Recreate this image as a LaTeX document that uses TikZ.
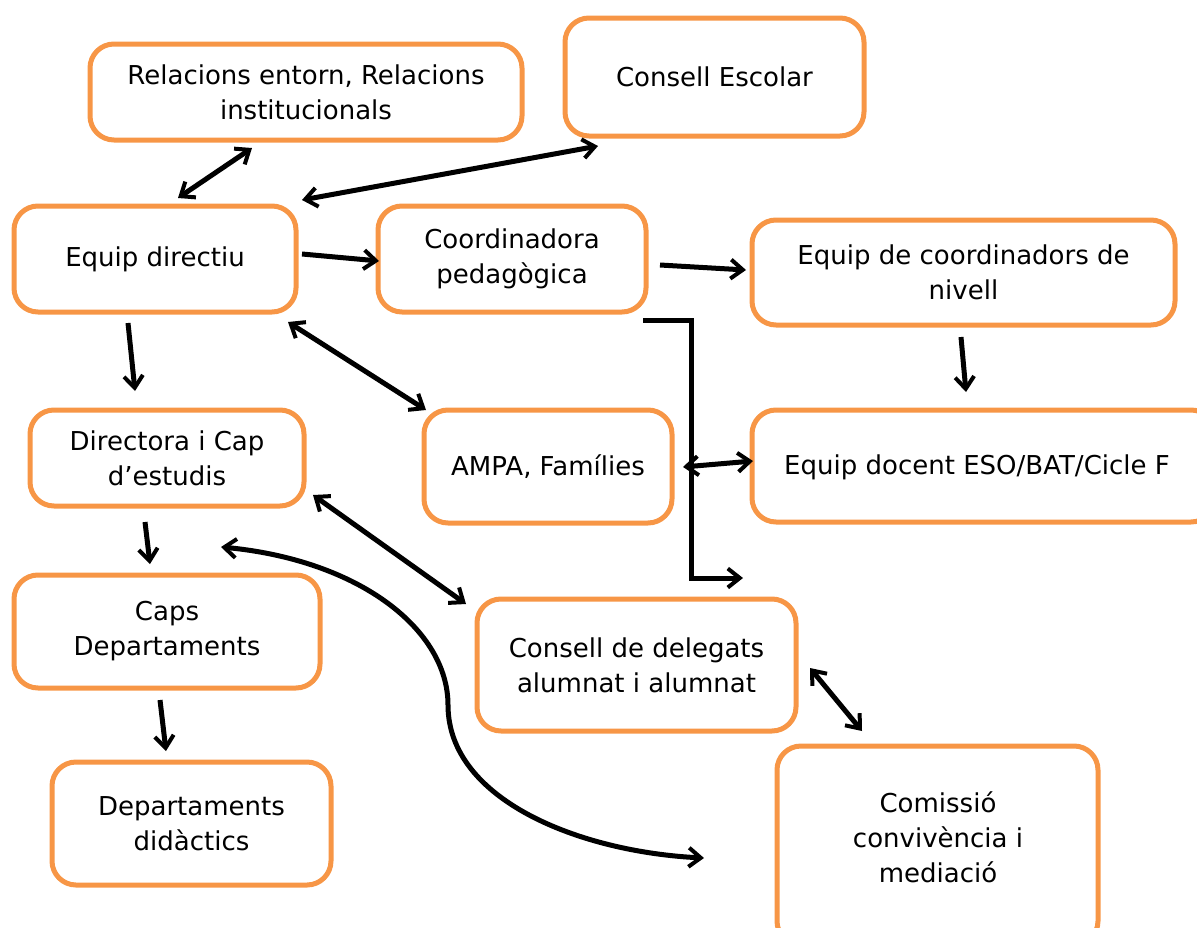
\documentclass[tikz,border=0pt]{standalone}
\usepackage{fontspec}
\setmainfont{DejaVu Sans}
\usetikzlibrary{arrows.meta}
\definecolor{boxorange}{HTML}{F79646}
\tikzset{
  orgbox/.style={draw=boxorange, line width=5pt, rounded corners=24pt, fill=white, align=center,
    font=\fontsize{26}{35}\selectfont, inner sep=0pt},
  txt/.style={font=\fontsize{26}{35}\selectfont, align=center},
  barb/.tip={Straight Barb[length=12pt,width=19pt,line width=4pt]},
  conn/.style={line width=5pt, -barb},
  bconn/.style={line width=5pt, barb-barb},
}
\begin{document}
\begin{tikzpicture}[x=1pt,y=-1pt]
\useasboundingbox (0,0) rectangle (1197,927);
\newcommand{\obox}[6]{\node[orgbox, minimum width=#4-#2, minimum height=#5-#3] (#1) at ({(#2+#4)/2},{(#3+#5)/2}) {#6};}
\begin{scope}
\clip (0,0) rectangle (1197,927);
\obox{rel}{90}{44}{522}{140}{Relacions entorn, Relacions\\institucionals}
\obox{ce}{565}{18}{864}{136}{Consell Escolar}
\obox{ed}{14}{206}{296}{312}{Equip directiu}
\obox{cp}{378}{206}{646}{312}{Coordinadora\\pedagògica}
\obox{ecn}{752}{220}{1175}{325}{Equip de coordinadors de\\nivell}
\obox{dir}{30}{410}{304}{506}{Directora i Cap\\d’estudis}
\obox{ampa}{424}{410}{672}{523}{AMPA, Famílies}
\obox{edoc}{752}{410}{1215}{522}{}
\node[txt] (edoct) at (977,467) {Equip docent ESO/BAT/Cicle F};
\obox{caps}{14}{575}{320}{688}{Caps\\Departaments}
\obox{cdel}{477}{599}{796}{731}{Consell de delegats\\alumnat i alumnat}
\obox{dd}{52}{762}{331}{885}{Departaments\\didàctics}
\obox{com}{777}{746}{1098}{945}{}
\node[txt] (comt) at (938,837) {Comissió\\convivència i\\mediació};
\end{scope}
% connector end points
\coordinate (a1) at (178,198); \coordinate (a2) at (252,148);
\coordinate (b1) at (302,200); \coordinate (b2) at (598,146);
\coordinate (c1) at (302,254); \coordinate (c2) at (379,261);
\coordinate (d1) at (660,265); \coordinate (d2) at (746,270);
\coordinate (e1) at (961,337); \coordinate (e2) at (966,392);
\coordinate (f1) at (128,323); \coordinate (f2) at (135,391);
\coordinate (g1) at (288,322); \coordinate (g2) at (426,410);
\coordinate (h1) at (643,320); \coordinate (h2) at (743,578);
\coordinate (i1) at (683,467); \coordinate (i2) at (753,461);
\coordinate (j1) at (313,495); \coordinate (j2) at (466,604);
\coordinate (k1) at (145,522); \coordinate (k2) at (150,564);
\coordinate (l1) at (160,700); \coordinate (l2) at (166,751);
\coordinate (m1) at (810,668); \coordinate (m2) at (862,731);
\coordinate (n1) at (221,547); \coordinate (n2) at (704,858);
\draw[bconn] (a1) -- (a2);
\draw[bconn] (b1) -- (b2);
\draw[conn] (c1) -- (c2);
\draw[conn] (d1) -- (d2);
\draw[conn] (e1) -- (e2);
\draw[conn] (f1) -- (f2);
\draw[bconn] (g1) -- (g2);
\draw[conn, line join=miter] (h1) -- (691,320) -- (691,578) -- (h2);
\draw[bconn] (i1) -- (i2);
\draw[bconn] (j1) -- (j2);
\draw[conn] (k1) -- (k2);
\draw[conn] (l1) -- (l2);
\draw[bconn] (m1) -- (m2);
\draw[bconn] (n1) .. controls (360,560) and (448,630) .. (448,705) .. controls (448,800) and (580,852) .. (n2);
\end{tikzpicture}
\end{document}
